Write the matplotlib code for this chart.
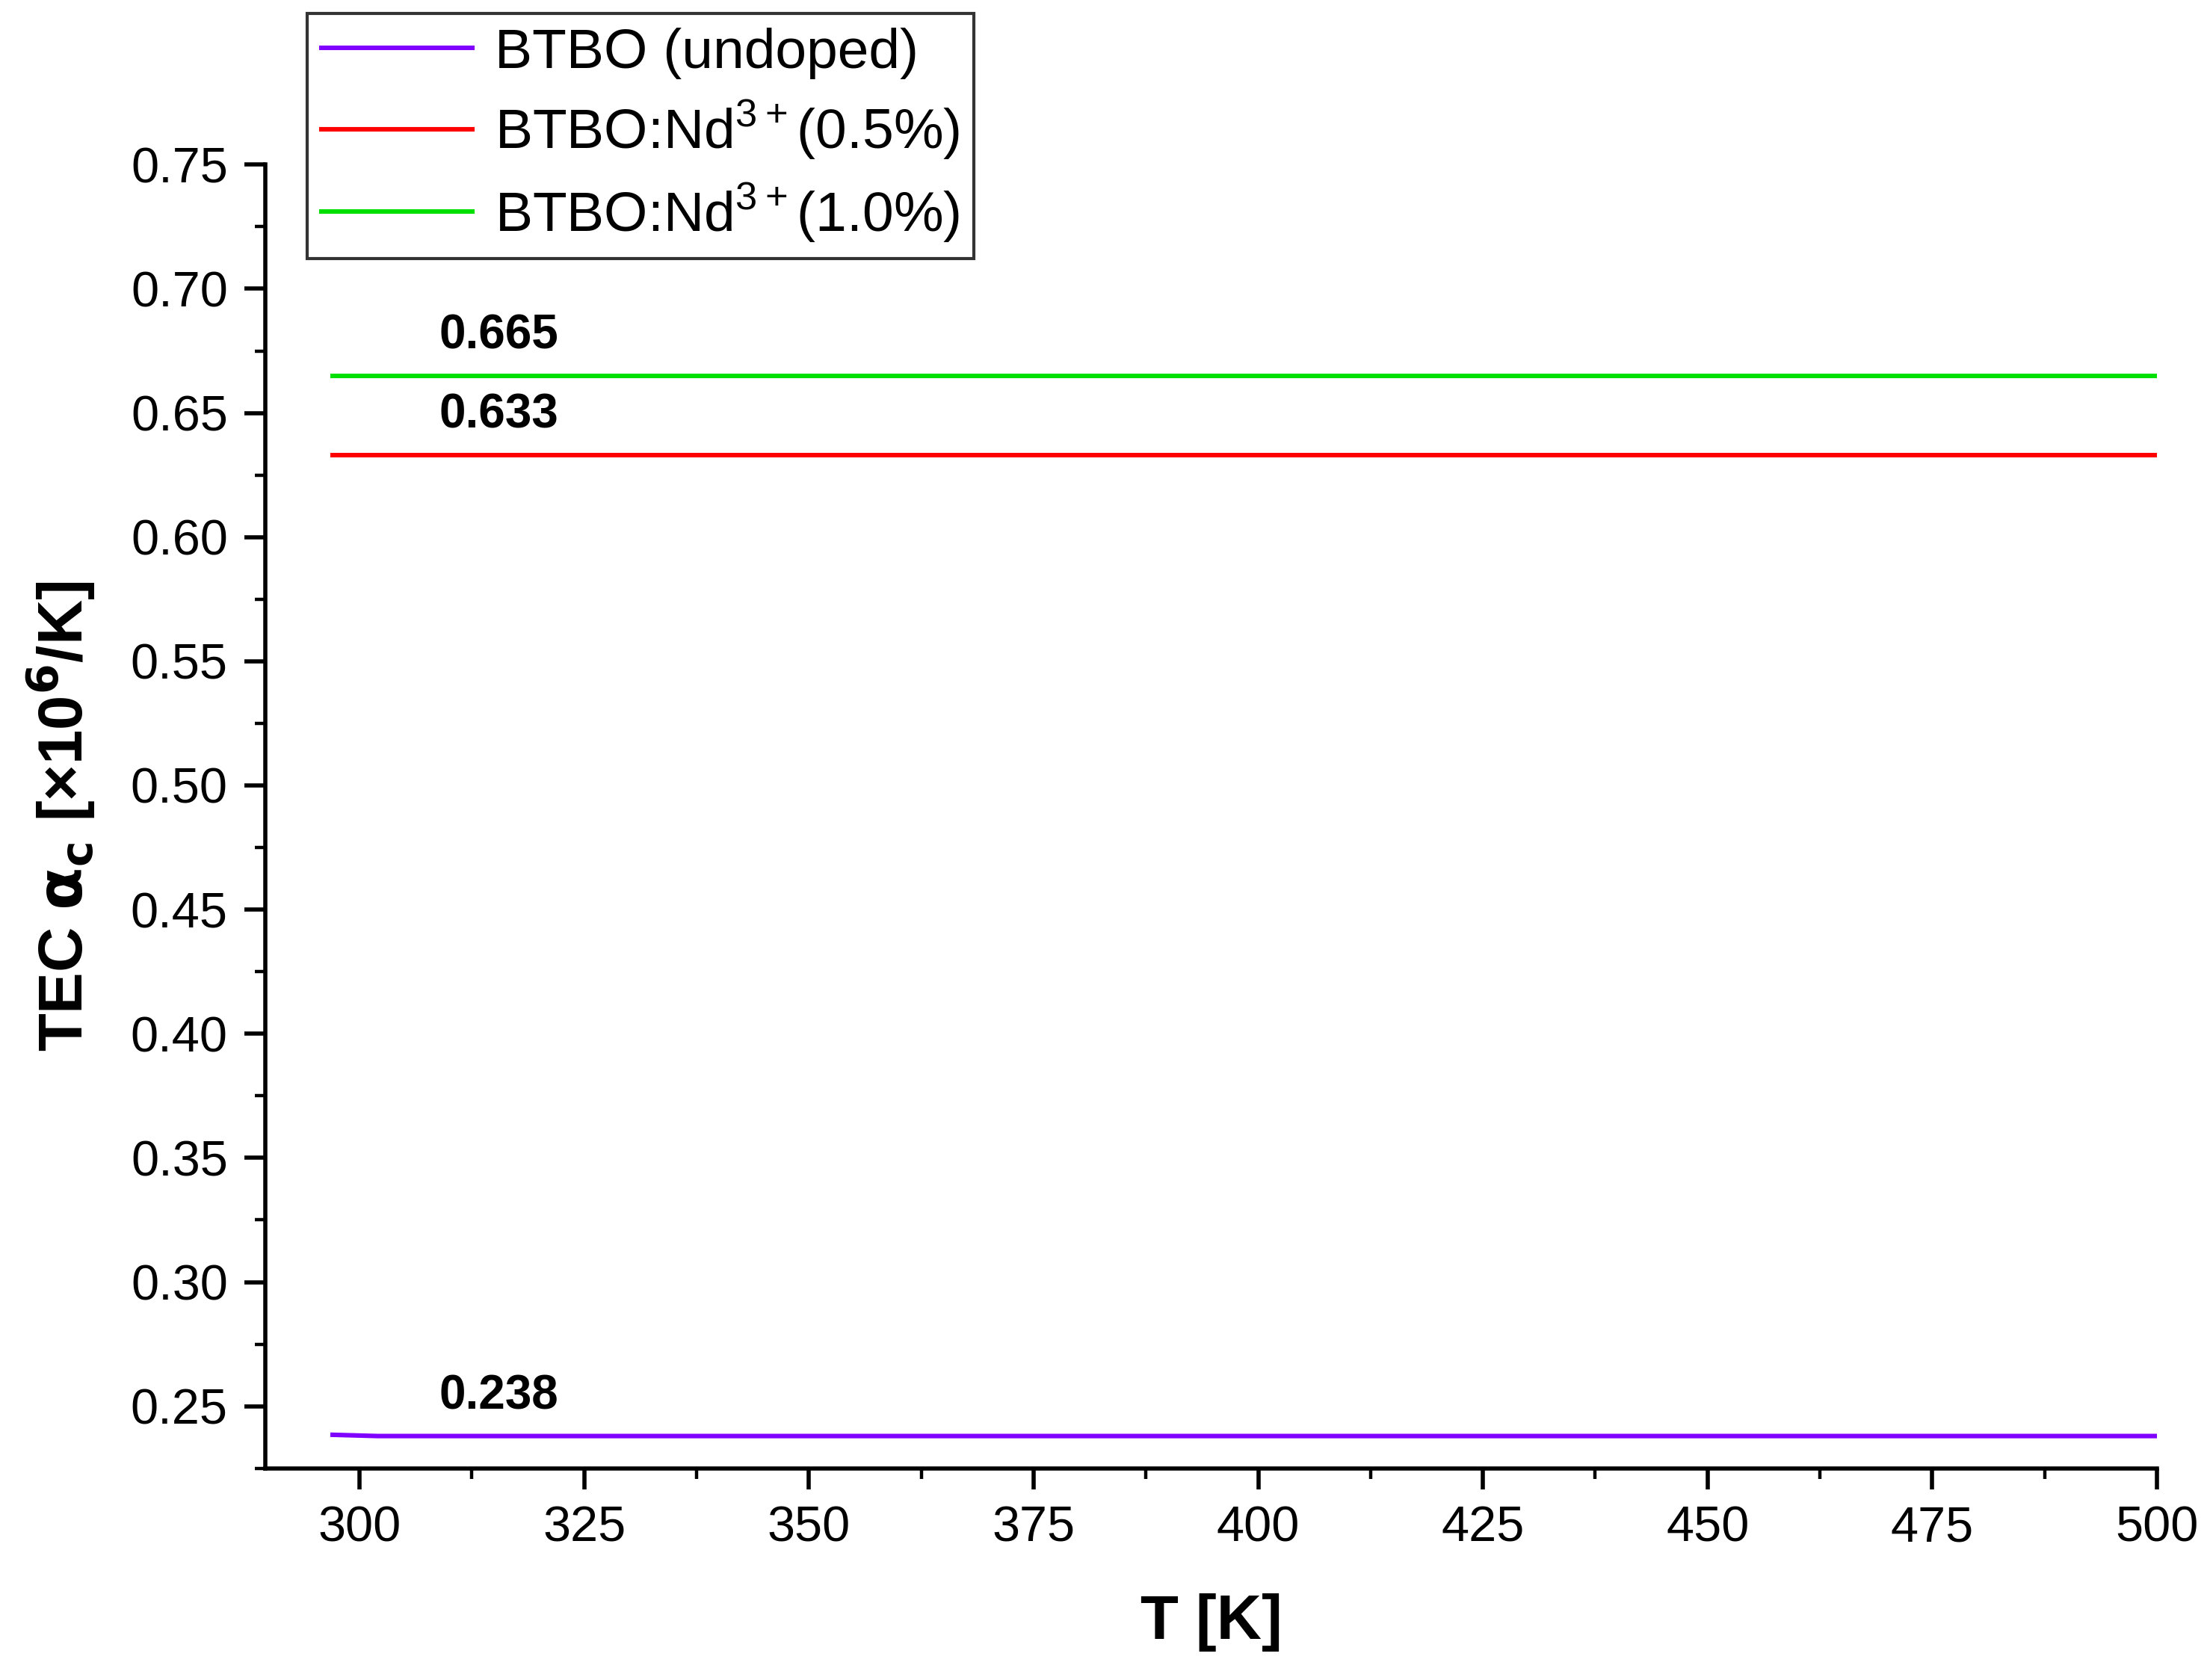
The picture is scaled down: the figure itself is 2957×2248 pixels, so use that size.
import matplotlib.pyplot as plt
from matplotlib.ticker import MultipleLocator

plt.rcParams['font.family'] = ['Liberation Sans', 'DejaVu Sans']

# temperature grid [K] and TEC values [x10^-6/K]
T = [297, 302, 350, 400, 450, 500]
tec_undoped = [0.2385, 0.238, 0.238, 0.238, 0.238, 0.238]
tec_nd05 = [0.633, 0.633, 0.633, 0.633, 0.633, 0.633]
tec_nd10 = [0.665, 0.665, 0.665, 0.665, 0.665, 0.665]
labels = ["BTBO (undoped)", r"BTBO:Nd$^{\mathregular{3+}}$(0.5%)",
          r"BTBO:Nd$^{\mathregular{3+}}$(1.0%)"]
colors = ["#8000ff", "#ff0000", "#00e000"]
notes = ["0.238", "0.633", "0.665"]

fig = plt.figure(figsize=(14.785, 11.24), dpi=200)
ax = fig.add_axes([0.120, 0.126, 0.856, 0.776])

series = [tec_undoped, tec_nd05, tec_nd10]
for vals, lab, c in zip(series, labels, colors):
    ax.plot(T, vals, color=c, lw=2.2, label=lab)
for vals, note in zip(series, notes):
    ax.text(315.5, vals[-1] + 0.007, note, fontsize=23, fontweight='bold',
            ha='center', va='bottom')

ax.set_xlim(289.5, 500)
ax.set_ylim(0.225, 0.75)
ax.xaxis.set_major_locator(MultipleLocator(25))
ax.xaxis.set_minor_locator(MultipleLocator(12.5))
ax.yaxis.set_major_locator(MultipleLocator(0.05))
ax.yaxis.set_minor_locator(MultipleLocator(0.025))
ax.yaxis.set_major_formatter(plt.FormatStrFormatter('%.2f'))
for s in ['top', 'right']:
    ax.spines[s].set_visible(False)
for s in ['left', 'bottom']:
    ax.spines[s].set_linewidth(2.0)
ax.tick_params(which='major', length=10, width=2.0, labelsize=24, pad=8)
ax.tick_params(which='minor', length=5, width=1.6)
ax.set_xlabel("T [K]", fontsize=30, fontweight='bold', labelpad=20)
ax.set_ylabel(r"TEC $\mathbf{\alpha_c}$ [×10$^{\mathbf{6}}$/K]", fontsize=30,
              fontweight='bold', labelpad=16)

leg = fig.legend(loc='upper left', bbox_to_anchor=(0.139, 0.992), fontsize=27,
                 frameon=True, fancybox=False, edgecolor='black',
                 handlelength=2.7, handletextpad=0.4, borderpad=0.25,
                 labelspacing=0.35, borderaxespad=0)
leg.get_frame().set_linewidth(1.5)
for line in leg.get_lines():
    line.set_linewidth(2.2)

fig.savefig("out.png", dpi=200)
